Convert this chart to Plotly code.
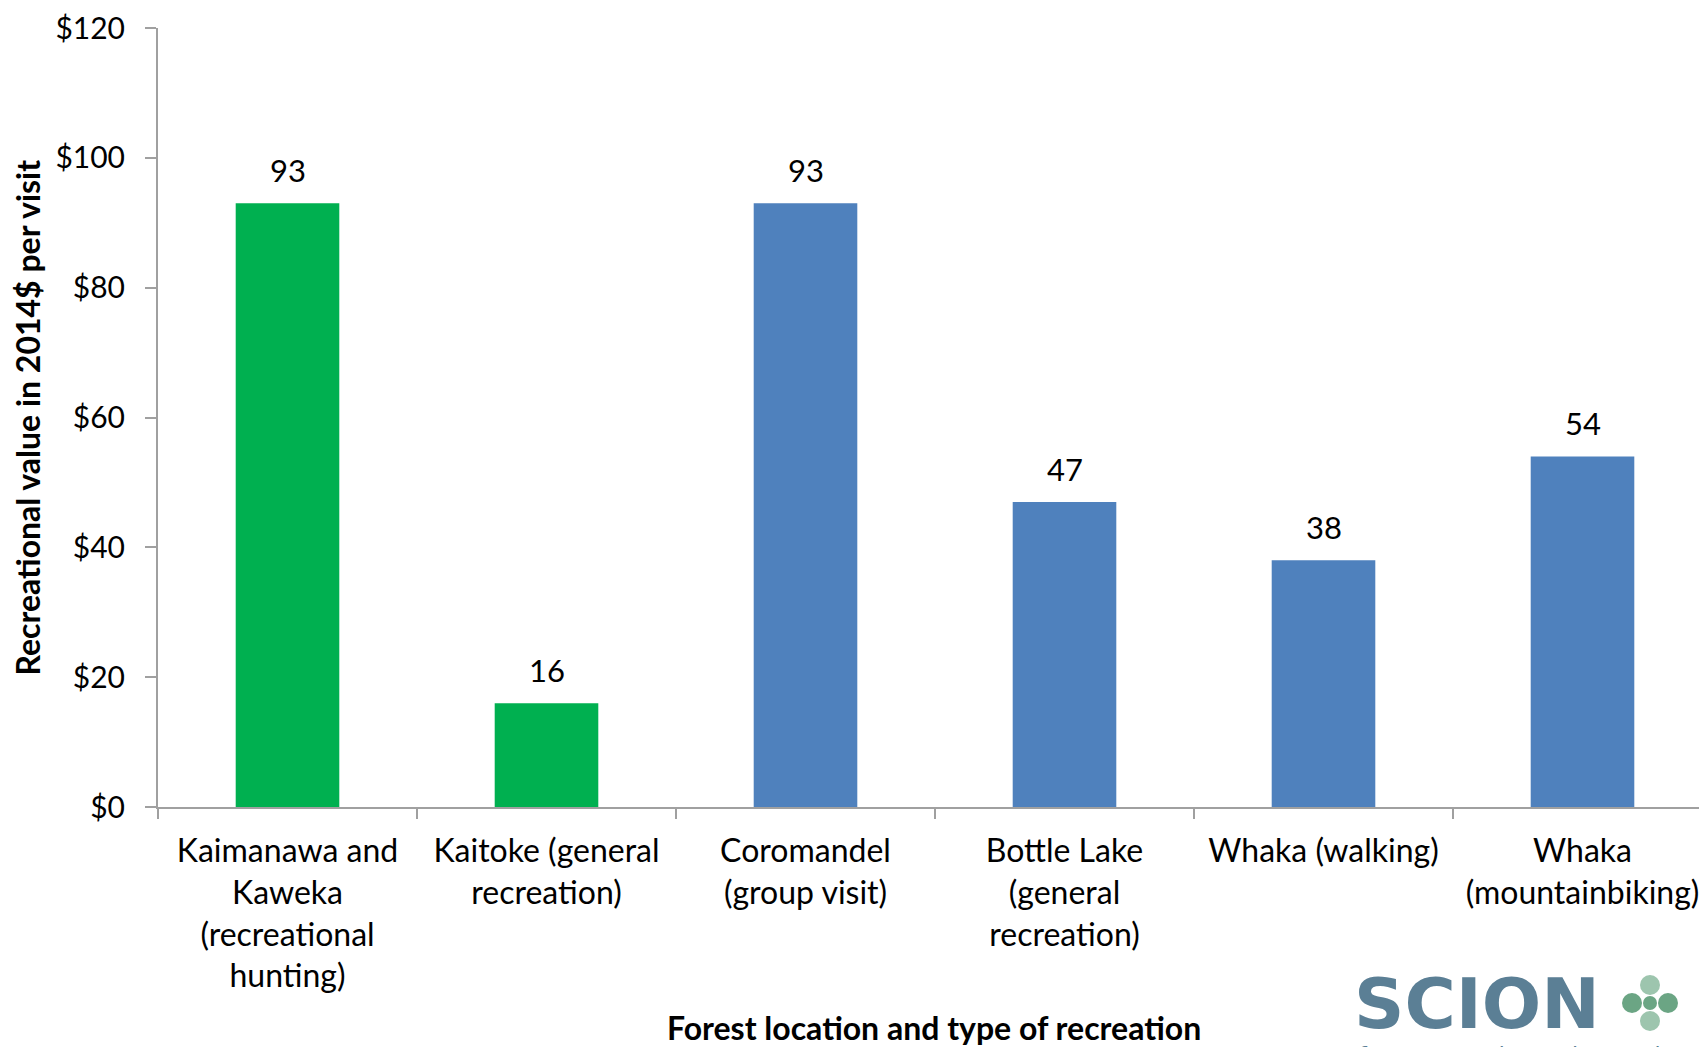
import plotly.graph_objects as go

categories = [
    "Kaimanawa and<br>Kaweka<br>(recreational<br>hunting)",
    "Kaitoke (general<br>recreation)",
    "Coromandel<br>(group visit)",
    "Bottle Lake<br>(general<br>recreation)",
    "Whaka (walking)",
    "Whaka<br>(mountainbiking)",
]
values = [93, 16, 93, 47, 38, 54]
bar_colors = ["#00B050", "#00B050", "#4F81BD", "#4F81BD", "#4F81BD", "#4F81BD"]
y_ticks = [0, 20, 40, 60, 80, 100, 120]
y_tick_labels = ["$0", "$20", "$40", "$60", "$80", "$100", "$120"]

FONT = "Lato"
W, H = 1699, 1047
L, T, B = 158, 28, 240

fig = go.Figure()
fig.add_trace(go.Bar(
    x=categories, y=values, marker=dict(color=bar_colors, line=dict(width=0)),
    width=0.4, hoverinfo="skip",
))

for c, v in zip(categories, values):
    fig.add_annotation(x=c, y=v, text=str(v), showarrow=False, yanchor="bottom",
                       yshift=12, font=dict(family=FONT, size=31, color="#000000"))

def px(x):
    return (x - L) / (W - L)
def py(y):
    return (H - B - y) / (H - B - T)

# axis titles
fig.add_annotation(xref="paper", yref="paper", x=px(934), y=py(1027),
                   text="<b>Forest location and type of recreation</b>", showarrow=False,
                   xanchor="center", yanchor="middle", font=dict(family=FONT, size=32, color="#000000"))
fig.add_annotation(xref="paper", yref="paper", x=px(27), y=0.5,
                   text="<b>Recreational value in 2014$ per visit</b>", showarrow=False, textangle=-90,
                   xanchor="center", yanchor="middle", font=dict(family=FONT, size=32, color="#000000"))

# SCION logo (decoration)
fig.add_annotation(xref="paper", yref="paper", x=px(1477), y=py(1004), text="<b>SCION</b>",
                   showarrow=False, xanchor="center", yanchor="middle",
                   font=dict(family="DejaVu Sans", size=70, color="#5B7F95"))
fig.add_annotation(xref="paper", yref="paper", x=px(1357), y=py(1040), text="forests · products · innovation",
                   showarrow=False, xanchor="left", yanchor="top",
                   font=dict(family="DejaVu Sans", size=22, color="#5B7F95"))
for cx, cy, r, col in [(1650, 985, 10, "#9DC5AE"), (1650, 1021, 10, "#9DC5AE"),
                       (1632, 1003, 10, "#6BA584"), (1668, 1003, 10, "#6BA584"),
                       (1650, 1003, 7, "#6BA584")]:
    fig.add_shape(type="circle", xref="paper", yref="paper",
                  x0=px(cx - r), x1=px(cx + r), y0=py(cy + r), y1=py(cy - r),
                  fillcolor=col, line=dict(width=0), layer="above")

fig.update_layout(
    width=W, height=H,
    margin=dict(l=L, r=0, t=T, b=B, pad=0),
    paper_bgcolor="white", plot_bgcolor="white",
    showlegend=False, bargap=0.6,
    xaxis=dict(
        type="category", range=[-0.5, -0.5 + (W - L) / 259], showgrid=False, zeroline=False,
        showline=True, linecolor="#A0A0A0", linewidth=2,
        ticks="outside", tickson="boundaries", ticklen=10, tickcolor="#A0A0A0", tickwidth=2,
        tickfont=dict(family=FONT, size=32, color="#000000"), tickangle=0, ticklabelstandoff=15,
    ),
    yaxis=dict(
        range=[0, 120], tickvals=y_ticks, ticktext=y_tick_labels, showgrid=False, zeroline=False,
        showline=True, linecolor="#A0A0A0", linewidth=2,
        ticks="outside", ticklen=11, tickcolor="#A0A0A0", tickwidth=2,
        tickfont=dict(family=FONT, size=30, color="#000000"), ticklabelstandoff=14,
    ),
)

fig.write_html("out.html")
